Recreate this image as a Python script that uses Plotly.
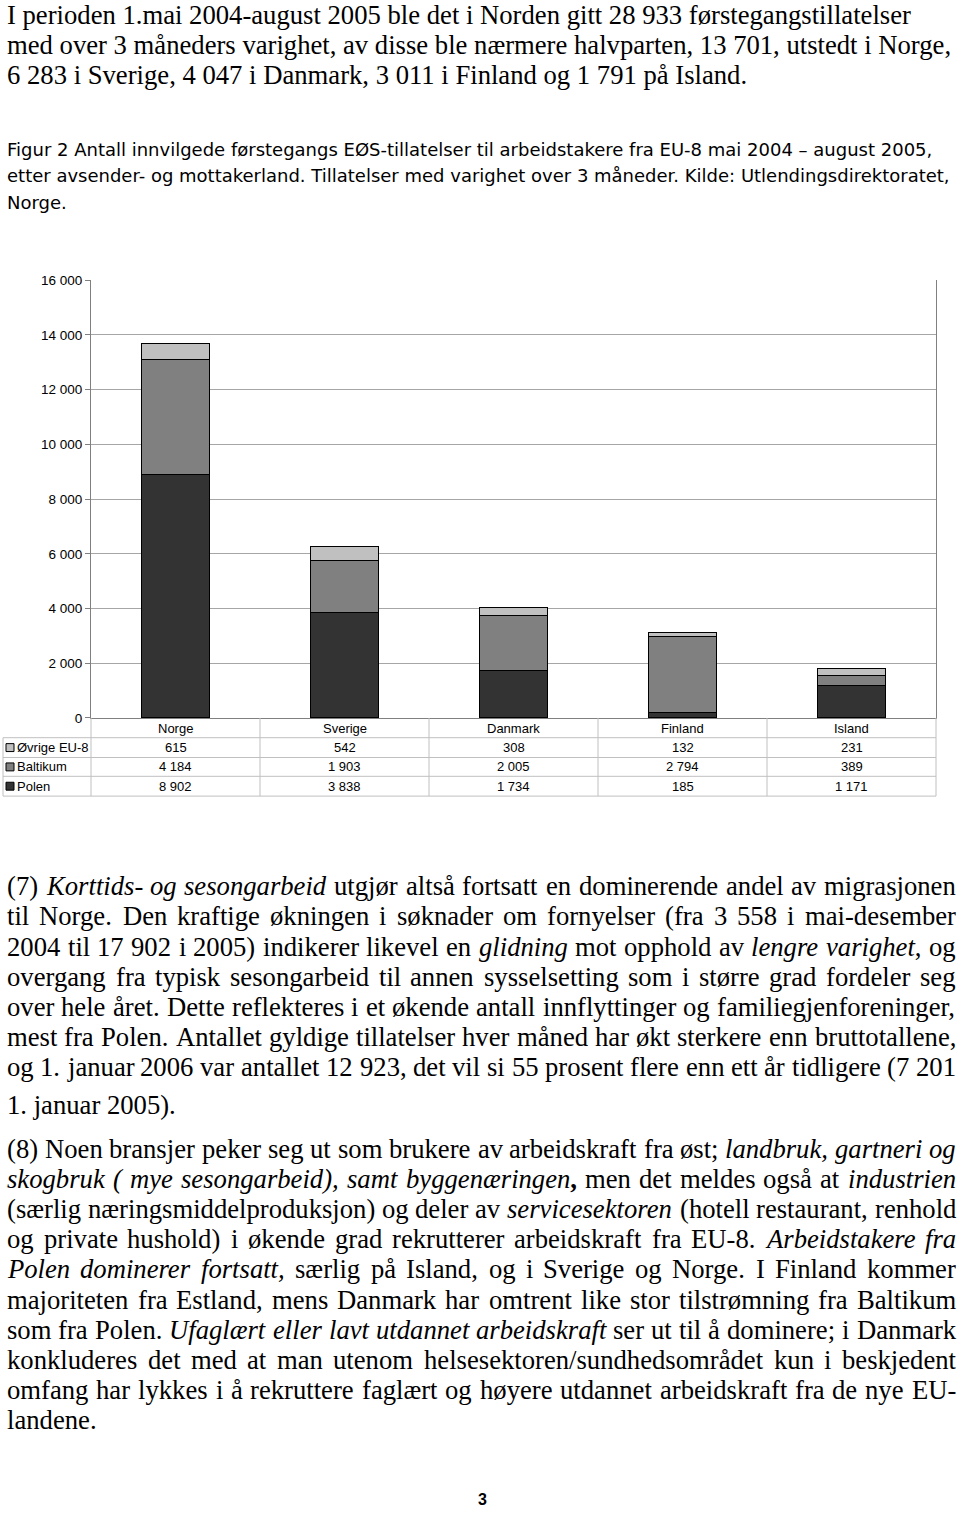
import plotly.graph_objects as go

W, H = 960, 1515
OX, OY = 0, 0             # page body margin is removed by post_script below
FW, FH = W - OX, H - OY

# ---------------- data ----------------
categories = ["Norge", "Sverige", "Danmark", "Finland", "Island"]
polen = [8902, 3838, 1734, 185, 1171]
baltikum = [4184, 1903, 2005, 2794, 389]
ovrige = [615, 542, 308, 132, 231]
series_order = ["Polen", "Baltikum", "Øvrige EU-8"]          # stacking order (bottom -> top)
table_order = ["Øvrige EU-8", "Baltikum", "Polen"]            # table row order
series_values = {"Polen": polen, "Baltikum": baltikum, "Øvrige EU-8": ovrige}
series_colors = {"Polen": "#333333", "Baltikum": "#808080", "Øvrige EU-8": "#c0c0c0"}
y_ticks = [0, 2000, 4000, 6000, 8000, 10000, 12000, 14000, 16000]

para1 = [
    "I perioden 1.mai 2004-august 2005 ble det i Norden gitt 28 933 førstegangstillatelser",
    "med over 3 måneders varighet, av disse ble nærmere halvparten, 13 701, utstedt i Norge,",
    "6 283 i Sverige, 4 047 i Danmark, 3 011 i Finland og 1 791 på Island.",
]
caption = [
    "Figur 2 Antall innvilgede førstegangs EØS-tillatelser til arbeidstakere fra EU-8 mai 2004 – august 2005,",
    "etter avsender- og mottakerland. Tillatelser med varighet over 3 måneder. Kilde: Utlendingsdirektoratet,",
    "Norge.",
]
para7 = [
    "(7) <i>Korttids- og sesongarbeid</i> utgjør altså fortsatt en dominerende andel av migrasjonen",
    "til Norge. Den kraftige økningen i søknader om fornyelser (fra 3 558 i mai-desember",
    "2004 til 17 902 i 2005) indikerer likevel en <i>glidning</i> mot opphold av <i>lengre varighet</i>, og",
    "overgang fra typisk sesongarbeid til annen sysselsetting som i større grad fordeler seg",
    "over hele året. Dette reflekteres i et økende antall innflyttinger og familiegjenforeninger,",
    "mest fra Polen. Antallet gyldige tillatelser hver måned har økt sterkere enn bruttotallene,",
    "og 1. januar 2006 var antallet 12 923, det vil si 55 prosent flere enn ett år tidligere (7 201",
    "1. januar 2005).",
]
para8 = [
    "(8) Noen bransjer peker seg ut som brukere av arbeidskraft fra øst; <i>landbruk, gartneri og</i>",
    "<i>skogbruk ( mye sesongarbeid), samt byggenæringen</i><b>,</b> men det meldes også at <i>industrien</i>",
    "(særlig næringsmiddelproduksjon) og deler av <i>servicesektoren</i> (hotell restaurant, renhold",
    "og private hushold) i økende grad rekrutterer arbeidskraft fra EU-8. <i>Arbeidstakere fra</i>",
    "<i>Polen dominerer fortsatt,</i> særlig på Island, og i Sverige og Norge. I Finland kommer",
    "majoriteten fra Estland, mens Danmark har omtrent like stor tilstrømning fra Baltikum",
    "som fra Polen. <i>Ufaglært eller lavt utdannet arbeidskraft</i> ser ut til å dominere; i Danmark",
    "konkluderes det med at man utenom helsesektoren/sundhedsområdet kun i beskjedent",
    "omfang har lykkes i å rekruttere faglært og høyere utdannet arbeidskraft fra de nye EU-",
    "landene.",
]
page_number = "3"

# ---------------- helpers ----------------
def px(x):
    return (x - OX) / FW


def py(y):
    return 1 - (y - OY) / FH


def fmt(v):
    return f"{v:,}".replace(",", " ")


# Times (Liberation Serif) advance widths, per 1000 em
REG = dict(zip("abcdefghijklmnopqrstuvwxyz",
               [444, 500, 444, 500, 444, 333, 500, 500, 278, 278, 500, 278, 778, 500, 500, 500, 500, 333, 389, 278, 500, 500, 722, 500, 500, 444]))
REG.update(dict(zip("ABCDEFGHIJKLMNOPQRSTUVWXYZ",
                    [722, 667, 667, 722, 611, 556, 722, 722, 333, 389, 722, 611, 889, 722, 722, 556, 722, 667, 556, 611, 722, 722, 944, 722, 722, 611])))
REG.update({" ": 250, ",": 250, ".": 250, "-": 333, "(": 333, ")": 333, ";": 278, ":": 278, "/": 278,
            "æ": 667, "ø": 500, "å": 444, "Ø": 722, "Æ": 889, "Å": 722})
for d in "0123456789":
    REG[d] = 500
ITA = dict(zip("abcdefghijklmnopqrstuvwxyz",
               [500, 500, 444, 500, 444, 278, 500, 500, 278, 278, 444, 278, 722, 500, 500, 500, 500, 389, 389, 278, 500, 444, 667, 444, 444, 389]))
ITA.update(dict(zip("ABCDEFGHIJKLMNOPQRSTUVWXYZ",
                    [611, 611, 667, 722, 611, 611, 722, 722, 333, 444, 667, 556, 833, 667, 722, 611, 722, 611, 500, 556, 722, 611, 833, 611, 556, 556])))
ITA.update({" ": 250, ",": 250, ".": 250, "-": 333, "(": 333, ")": 333, ";": 333, ":": 333,
            "æ": 667, "ø": 500, "å": 500})


def parse(line):
    out, style, i = [], "r", 0
    while i < len(line):
        for tag, st in (("<i>", "i"), ("</i>", "r"), ("<b>", "b"), ("</b>", "r")):
            if line.startswith(tag, i):
                style = st
                i += len(tag)
                break
        else:
            out.append((line[i], style))
            i += 1
    return out


def char_w(ch, st):
    return (ITA if st == "i" else REG).get(ch, 500)


def words_of(line):
    words, cur = [], []
    for ch, st in parse(line):
        if ch == " ":
            if cur:
                words.append(cur)
            cur = []
        else:
            cur.append((ch, st))
    if cur:
        words.append(cur)
    return words


def word_html(word):
    html, cur_st, buf = "", None, ""
    for ch, st in word + [("", None)]:
        if st != cur_st:
            if buf:
                html += {"i": f"<i>{buf}</i>", "b": f"<b>{buf}</b>"}.get(cur_st, buf)
            buf, cur_st = "", st
        buf += ch
    return html


def line_em(line):
    return sum(char_w(ch, st) for ch, st in parse(line)) / 1000.0


annotations = []
shapes = []

LEFT, RIGHT = 7, 956
BODY_FONT = "Liberation Serif"
BODY_SIZE = (952 - LEFT) / line_em(para1[1])
LINE_GAP = 30.5
BASE_SHIFT = 0.3375   # baseline offset below the box centre, in em (Liberation Serif)


def add_line(text, baseline, size=BODY_SIZE, family=BODY_FONT, justify=False, shift=BASE_SHIFT):
    yc = baseline - shift * size
    if not justify:
        annotations.append(dict(x=px(LEFT), y=py(yc), xref="paper", yref="paper", xanchor="left", yanchor="middle",
                                text=text, showarrow=False, borderpad=0, borderwidth=0,
                                font=dict(family=family, size=size, color="#000")))
        return
    words = words_of(text)
    widths = [sum(char_w(ch, st) for ch, st in w) / 1000.0 * size for w in words]
    gap = (RIGHT - LEFT - sum(widths)) / (len(words) - 1)
    x = LEFT
    for w, wd in zip(words, widths):
        annotations.append(dict(x=px(x), y=py(yc), xref="paper", yref="paper", xanchor="left", yanchor="middle",
                                text=word_html(w), showarrow=False, borderpad=0, borderwidth=0,
                                font=dict(family=family, size=size, color="#000")))
        x += wd + gap


for k, t in enumerate(para1):
    add_line(t, 17 + k * LINE_GAP)
for k, t in enumerate(caption):
    add_line(t, 150 + k * 27, size=18.0, family="DejaVu Sans", shift=0.36)
for k, t in enumerate(para7):
    last = k == len(para7) - 1
    add_line(t, 897 + k * LINE_GAP + (7 if last else 0), justify=not last)
for k, t in enumerate(para8):
    add_line(t, 1162 + k * LINE_GAP, justify=(k < len(para8) - 1))

annotations.append(dict(x=px(482), y=py(1507), xref="paper", yref="paper", xanchor="center", yanchor="middle",
                        text=f"<b>{page_number}</b>", showarrow=False,
                        font=dict(family="Liberation Sans", size=16, color="#000")))

# ---------------- chart ----------------
PL, PR, PT, PB = 91, 936, 276, 718
fig = go.Figure()
for name in series_order:
    fig.add_trace(go.Bar(x=categories, y=series_values[name], name=name, width=0.4,
                         marker=dict(color=series_colors[name], line=dict(color="#000000", width=1)),
                         showlegend=False, hoverinfo="skip"))

# data table under the plot
col_w = (PR - PL) / len(categories)
col_edges = [PL + i * col_w for i in range(len(categories) + 1)]
row_edges = [PB, 738, 758, 777, 797]
TABLE_LEFT = 3
GRID = "#c0c0c0"
for yv in row_edges[1:]:
    shapes.append(dict(type="line", xref="paper", yref="paper", x0=px(TABLE_LEFT), x1=px(PR), y0=py(yv), y1=py(yv),
                       line=dict(color=GRID, width=1)))
for xv in col_edges:
    shapes.append(dict(type="line", xref="paper", yref="paper", x0=px(xv), x1=px(xv), y0=py(PB), y1=py(row_edges[-1]),
                       line=dict(color=GRID, width=1)))
shapes.append(dict(type="line", xref="paper", yref="paper", x0=px(TABLE_LEFT), x1=px(TABLE_LEFT),
                   y0=py(row_edges[1]), y1=py(row_edges[-1]), line=dict(color=GRID, width=1)))

TFONT = dict(family="Liberation Sans", size=13, color="#000")
for i, c in enumerate(categories):
    annotations.append(dict(x=px(col_edges[i] + col_w / 2), y=py((row_edges[0] + row_edges[1]) / 2 + 1),
                            xref="paper", yref="paper", xanchor="center", yanchor="middle",
                            text=c, showarrow=False, font=TFONT))
for r, name in enumerate(table_order):
    yc = (row_edges[r + 1] + row_edges[r + 2]) / 2
    shapes.append(dict(type="rect", xref="paper", yref="paper", x0=px(6), x1=px(14), y0=py(yc - 4), y1=py(yc + 4),
                       fillcolor=series_colors[name], line=dict(color="#000", width=1)))
    annotations.append(dict(x=px(16), y=py(yc), xref="paper", yref="paper", xanchor="left", yanchor="middle",
                            text=name, showarrow=False, borderpad=0, font=TFONT))
    for i, v in enumerate(series_values[name]):
        annotations.append(dict(x=px(col_edges[i] + col_w / 2), y=py(yc), xref="paper", yref="paper",
                                xanchor="center", yanchor="middle",
                                text=fmt(v), showarrow=False, font=TFONT))

fig.update_layout(
    barmode="stack",
    width=FW, height=FH, autosize=False,
    margin=dict(l=0, r=0, t=0, b=0),
    paper_bgcolor="white", plot_bgcolor="white",
    separators=", ",
    hovermode=False,
    xaxis=dict(domain=[px(PL), px(PR)], range=[-0.5, len(categories) - 0.5], showticklabels=False,
               showline=True, linecolor="#808080", linewidth=1, showgrid=False, ticks="", zeroline=False),
    yaxis=dict(domain=[py(PB), py(PT)], range=[0, 16000], tickvals=y_ticks, tickformat=",d",
               showgrid=True, gridcolor="#a6a6a6", gridwidth=1, showline=True, mirror=True,
               linecolor="#808080", linewidth=1, ticks="outside", ticklen=5, tickcolor="#808080",
               tickfont=dict(family="Liberation Sans", size=13.5, color="#000"), zeroline=False),
    annotations=annotations,
    shapes=shapes,
)

fig.write_html(
    "out.html",
    config={"displayModeBar": False, "staticPlot": True},
    post_script="document.body.style.margin='0';document.body.style.overflow='hidden';"
                "document.documentElement.style.overflow='hidden';",
)
